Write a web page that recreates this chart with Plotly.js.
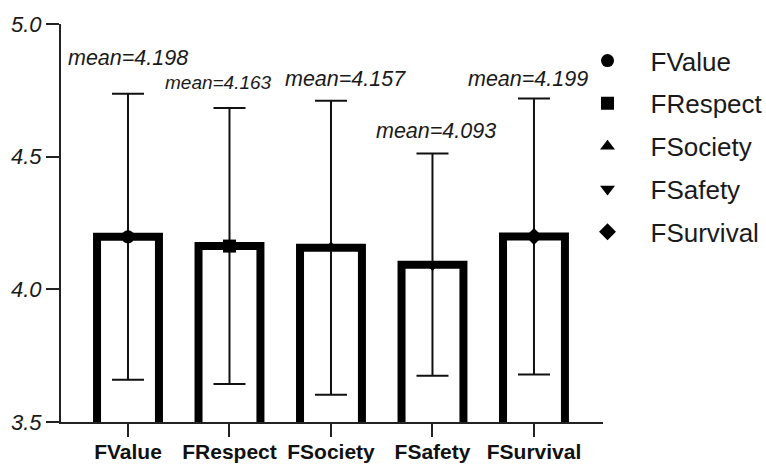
<!DOCTYPE html>
<html>
<head>
<meta charset="utf-8">
<script src="https://cdn.plot.ly/plotly-3.0.1.min.js"></script>
<style>html,body{margin:0;padding:0;background:#fff;}#chart{width:766px;height:464px;}</style>
</head>
<body>
<div id="chart"></div>
<script>
var categories = ['FValue', 'FRespect', 'FSociety', 'FSafety', 'FSurvival'];
var means = [4.198, 4.163, 4.157, 4.093, 4.199];
var sds = [0.539, 0.520, 0.554, 0.419, 0.520];
var meanLabels = ['mean=4.198', 'mean=4.163', 'mean=4.157', 'mean=4.093', 'mean=4.199'];
var yTicks = [3.5, 4.0, 4.5, 5.0];

var symbols = ['circle', 'square', 'triangle-up', 'triangle-down', 'diamond'];
var labelShiftX = [0, -11, 15, 4, -6];
var labelShiftY = [36, 26, 22, 22, 20];
var labelSize = [21.5, 19, 21.5, 21.5, 21.5];

var FONT = '"Liberation Sans", Arial, sans-serif';

var traces = [{
  type: 'bar',
  x: categories,
  y: means,
  width: 0.61,
  showlegend: false,
  hoverinfo: 'skip',
  marker: {color: '#ffffff', line: {color: '#000000', width: 8}},
  error_y: {type: 'data', array: sds, visible: true, color: '#111111', thickness: 2, width: 16}
}];

categories.forEach(function (c, i) {
  traces.push({
    type: 'scatter',
    mode: 'markers',
    x: [c],
    y: [means[i]],
    name: c,
    legendgroup: c,
    marker: {symbol: symbols[i], size: 13, color: '#000000'},
    cliponaxis: false
  });
});

var annotations = categories.map(function (c, i) {
  return {
    x: c, y: means[i] + sds[i], xref: 'x', yref: 'y',
    text: meanLabels[i], showarrow: false,
    xanchor: 'center', yanchor: 'middle',
    xshift: labelShiftX[i], yshift: labelShiftY[i],
    font: {family: FONT, size: labelSize[i], style: 'italic', color: '#1a1a1a'}
  };
});

var layout = {
  width: 766, height: 464,
  margin: {l: 61, r: 163, t: 24, b: 42, autoexpand: false},
  paper_bgcolor: '#ffffff', plot_bgcolor: '#ffffff',
  showlegend: true,
  legend: {
    x: 0.929, xanchor: 'left', y: 0.967, yanchor: 'top',
    font: {family: FONT, size: 26, color: '#1a1a1a'},
    tracegroupgap: 6, itemwidth: 76, bgcolor: 'rgba(0,0,0,0)'
  },
  xaxis: {
    type: 'category', range: [-0.66, 4.68],
    showline: true, linecolor: '#222222', linewidth: 2,
    ticks: 'outside', ticklen: 13, tickwidth: 2, tickcolor: '#222222',
    tickangle: 0, automargin: false, ticklabelstandoff: -3,
    tickfont: {family: FONT, size: 21, weight: 'bold', color: '#111111'},
    showgrid: false, zeroline: false, fixedrange: true
  },
  yaxis: {
    range: [3.5, 5.0], tickvals: yTicks, tickformat: '.1f',
    showline: true, linecolor: '#222222', linewidth: 2,
    ticks: 'outside', ticklen: 13, tickwidth: 2, tickcolor: '#222222',
    automargin: false,
    tickfont: {family: FONT, size: 22, style: 'italic', color: '#1a1a1a'},
    showgrid: false, zeroline: false, fixedrange: true
  },
  annotations: annotations
};

Plotly.newPlot('chart', traces, layout, {displayModeBar: false, staticPlot: true});
</script>
</body>
</html>
